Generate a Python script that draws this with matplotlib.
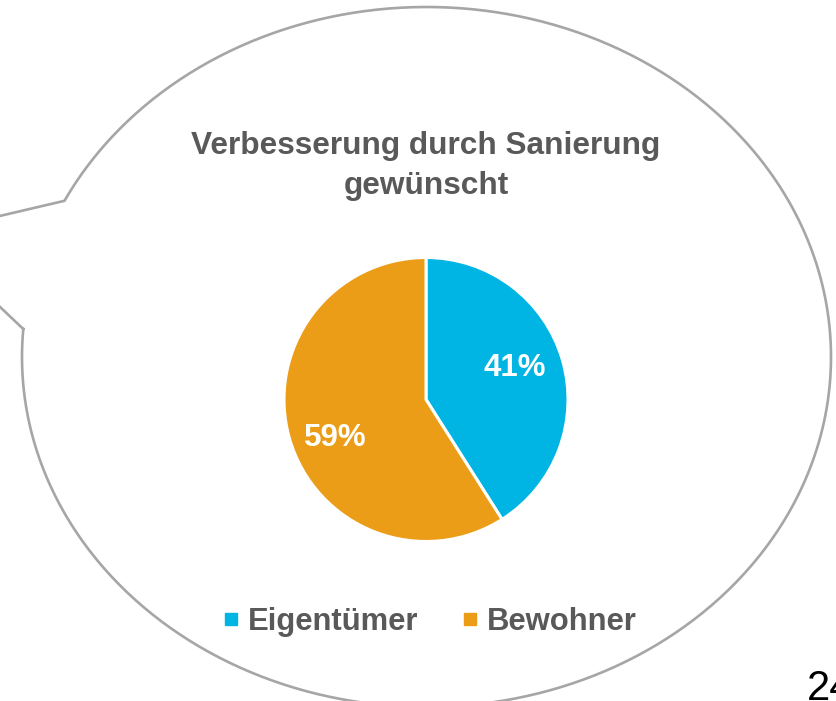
import numpy as np
import matplotlib
matplotlib.use("Agg")
import matplotlib.pyplot as plt
from matplotlib.lines import Line2D

plt.rcParams['font.family'] = ['Liberation Sans', 'DejaVu Sans']

# data
categories = ['Eigentümer', 'Bewohner']
shares = [41, 59]
colors = ['#00B4E3', '#EC9D17']
title_lines = ['Verbesserung durch Sanierung', 'gewünscht']
page_no = '24'

W, H = 836, 701
TXT = '#595959'

fig = plt.figure(figsize=(W / 100, H / 100), dpi=100)
ax = fig.add_axes([0, 0, 1, 1])

def up(y):
    # pixel row -> axis y (origin at bottom)
    return H - y

# speech bubble: ellipse with a tail to the upper left
cx, cy, a, b = 426.5, 357, 404.5, 350
t0 = np.arctan2((up(329) - up(cy)) / b, (23 - cx) / a)   # lower tail corner
t1 = np.arctan2((up(201) - up(cy)) / b, (65 - cx) / a)   # upper tail corner
t = np.linspace(t0, t1 + 2 * np.pi, 600)
bx = list(cx + a * np.cos(t)) + [-77, cx + a * np.cos(t0)]
by = list(up(cy) + b * np.sin(t)) + [up(234), up(cy) + b * np.sin(t0)]
ax.plot(bx, by, color='#A6A6A6', lw=1.9, solid_joinstyle='miter')

# pie
pcx, pcy, r = 426, up(399.5), 142
wedges, _ = ax.pie(shares, colors=colors, startangle=90, counterclock=False,
                   center=(pcx, pcy), radius=r,
                   wedgeprops=dict(edgecolor='white', linewidth=2.2))

# percentage labels (rotated a few degrees like the original layout)
mids = 90 - (np.cumsum(shares) - np.array(shares) / 2) * 3.6
for s, ang, dr, da in zip(shares, mids, [94, 99], [3.3, 6.7]):
    th = np.deg2rad(ang + da)
    ax.text(pcx + dr * np.cos(th), pcy + dr * np.sin(th), f'{s}%',
            ha='center', va='center', color='white', fontsize=22.5,
            fontweight='bold')

# title
ax.text(426, up(154), title_lines[0], ha='center', va='baseline',
        color=TXT, fontsize=22.8, fontweight='bold')
ax.text(426, up(194), title_lines[1], ha='center', va='baseline',
        color=TXT, fontsize=22.8, fontweight='bold')

# legend
handles = [Line2D([], [], marker='s', ls='', color=c, markersize=8.5) for c in colors]
ax.legend(handles, categories, loc='center', bbox_to_anchor=(431, up(622)),
          bbox_transform=ax.transData, ncol=2, frameon=False,
          prop=dict(size=22.3, weight='bold'), labelcolor=TXT,
          handlelength=0.4, handletextpad=0.35, columnspacing=1.45)

# page number, cut off at the edge
ax.text(807, up(700), page_no, ha='left', va='baseline', color='black',
        fontsize=30)

ax.set_xlim(0, W)
ax.set_ylim(0, H)
ax.set_aspect('equal')
ax.axis('off')

fig.savefig('out.png', dpi=100)
